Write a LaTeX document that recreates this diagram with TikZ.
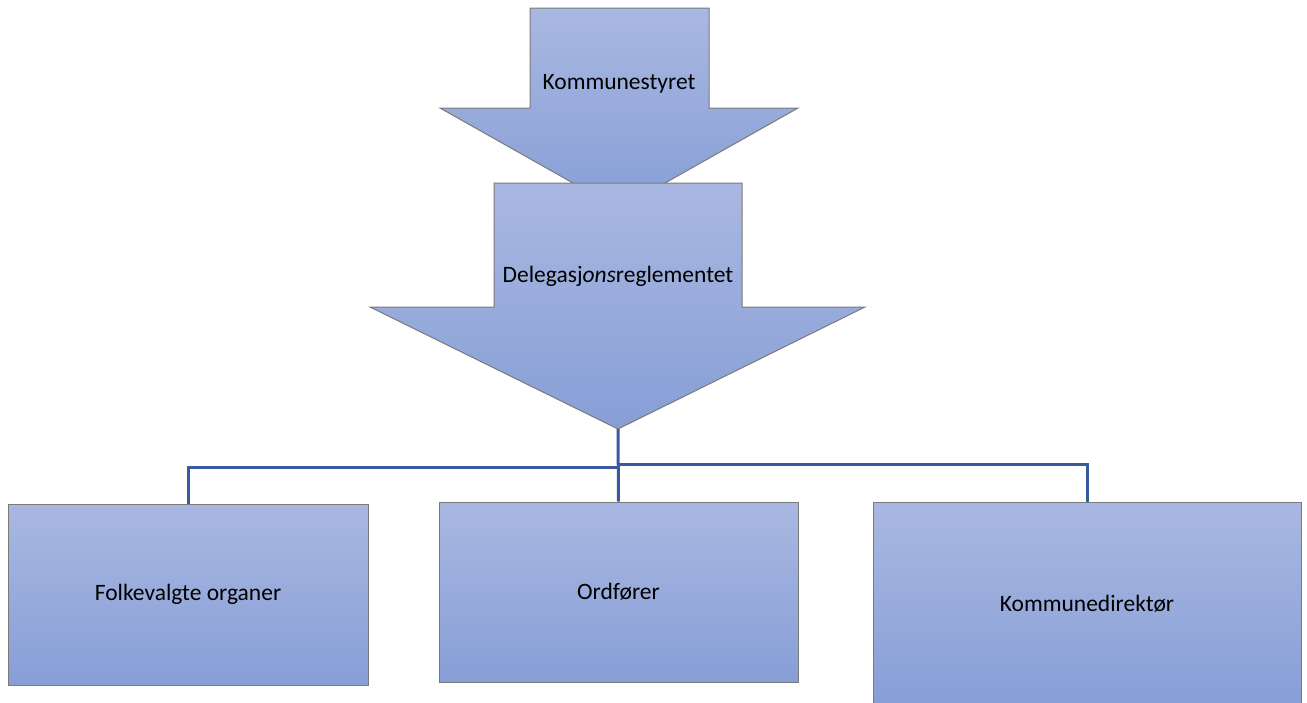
\documentclass[tikz,border=0pt]{standalone}
\usepackage{fontspec}
\setmainfont{Carlito}
\usepackage{tikz}
\usetikzlibrary{positioning}
\definecolor{boxtop}{HTML}{A9B8E1}
\definecolor{boxbot}{HTML}{879ED6}
\definecolor{rim}{HTML}{7A7A7A}
\definecolor{wire}{HTML}{3A5A9F}
\tikzset{
  blok/.style={draw=rim, line width=1pt, top color=boxtop, bottom color=boxbot},
  lbl/.style={font=\fontsize{23.5}{28}\selectfont, inner sep=0pt},
  enhet/.style={blok, lbl, rectangle},
  tråd/.style={draw=wire, line width=3pt}
}
\begin{document}
\begin{tikzpicture}[x=1pt, y=-1pt]
\useasboundingbox (0,0) rectangle (1307,702);
% top arrow
\path [blok] (530,8) -- (709,8) -- (709,108) -- (798,108) -- (619,209) -- (440,108) -- (530,108) -- cycle;
\node [lbl] (styre) at (619,84) {Kommunestyret};
% second arrow
\path [blok] (494,183) -- (742,183) -- (742,307) -- (865,307) -- (618,429) -- (370,307) -- (494,307) -- cycle;
\coordinate (tip) at (618,429);
\node [lbl] (deleg) at (618,276) {Delegasj\textit{ons}reglementet};
% boxes
\node [enhet, minimum width=360pt, minimum height=181pt] (folk) at (188,594.5) {Folkevalgte organer};
\node [enhet, minimum width=359pt, minimum height=180pt] (ordf) at (618.5,592) {Ordfører};
\node [enhet, minimum width=428pt, minimum height=204pt] (dir) at (1087,604) {Kommunedirektør};
% connectors
\coordinate (delv) at (618,467);
\coordinate (delh) at (618,464);
\draw [tråd] (tip) -- (ordf.north);
\draw [tråd] (delv) -| (folk.north);
\draw [tråd] (delh) -| (dir.north);
\end{tikzpicture}
\end{document}
